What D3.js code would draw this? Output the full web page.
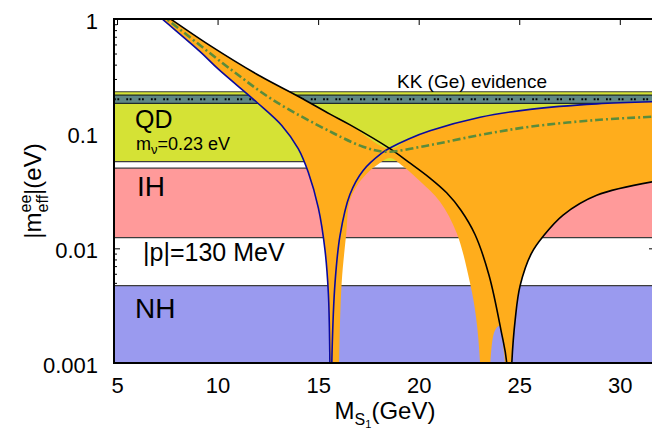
<!DOCTYPE html>
<html><head><meta charset="utf-8">
<script src="https://cdn.jsdelivr.net/npm/d3@7"></script>
<style>
body{margin:0;background:#fff;}
svg text{font-family:"Liberation Sans",Arial,Helvetica,sans-serif;fill:#000;}
</style></head><body>
<svg id="chart" width="652" height="430"></svg>
<script>
// ---------------- data ----------------
const xTicks = [5, 10, 15, 20, 25, 30];
const yTicks = [1, 0.1, 0.01, 0.001];
const yTickLabels = ["1", "0.1", "0.01", "0.001"];

// horizontal bands (eV)
const bandNames = ["QD", "KK", "IH", "NH"];
const bandLow  = [0.057, 0.184, 0.0124, 0.001];
const bandHigh = [0.232, 0.217, 0.050, 0.00472];
const kkLine = 0.2;

// curves [M_S1 (GeV), |m_ee| (eV)]
const blueCurve = [
  [6.94,1.12],[7.22,1.01],[9.13,0.519],[10.04,0.365],[11.95,0.188],[13.19,0.118],
  [14.01,0.074],[14.51,0.046],[15.01,0.0225],[15.34,0.0097],
  [15.51,0.0040],[15.58,0.0012],[15.63,0.0001],
  [15.69,0.0012],[15.84,0.0050],[16.09,0.0130],[16.58,0.0295],[17.23,0.0475],
  [18.16,0.0675],[18.57,0.0750],[19.5,0.090],[20.56,0.1060],[23.05,0.1390],[25.54,0.163],
  [28.85,0.182],[31.8,0.19]
];
const blackCurve = [
  [7.27,1.12],[7.635,1.01],[9.67,0.58],[12.11,0.318],[14.0,0.212],[15.59,0.148],[16.59,0.1193],
  [18.57,0.0740],[19.5,0.0565],[20.56,0.041],[21.39,0.0305],[22.1,0.0215],[22.8,0.0132],[23.5,0.0058],
  [24.1,0.0019],[24.38,0.001],[24.5,0.0001],
  [24.63,0.001],[24.8,0.0024],[25.04,0.0047],[25.6,0.0090],[26.2,0.0128],[27.18,0.0195],
  [28.85,0.0290],[31.8,0.0385]
];
const greenCurve = [
  [7.09,1.12],[7.44,1.01],[10.70,0.359],[12.76,0.1966],[15.74,0.1014],[17.23,0.077],
  [18.33,0.0696],[20.56,0.0796],[23.05,0.0974],[25.54,0.115],[28.85,0.1316],[31.8,0.141]
];
// lower edge of the orange region between the two dips
const archLower = [
  [16.00,0.0003],[16.04,0.001],[16.17,0.00499],[16.40,0.0136],[16.55,0.0250],
  [16.90,0.0345],[17.40,0.0445],[17.95,0.0535],[18.57,0.0613],[19.22,0.0520],
  [20.07,0.0385],[21.06,0.0255],[21.89,0.0136],[22.55,0.0050],[22.85,0.00252],
  [23.05,0.001],[23.10,0.0003],[23.50,0.0003],[23.56,0.0010],[23.78,0.0019],
  [24.0,0.0021],[24.25,0.0012]
];
const crossing = 18.57;
const blueDip = 15.63, blackDip = 24.5;

// ---------------- drawing ----------------
const W = 652, H = 430;
const L = 114, T = 19, R = 655, B = 363;
const x = d3.scaleLinear().domain([4.85, 31.75]).range([L, R]);
const y = d3.scaleLog().domain([0.001, 1]).range([B, T]);
const FONT = "Liberation Sans, Arial, Helvetica, sans-serif";

const svg = d3.select("#chart");
svg.append("rect").attr("width", W).attr("height", H).attr("fill", "#fff");
svg.append("defs").append("clipPath").attr("id", "plotClip")
  .append("rect").attr("x", L).attr("y", T).attr("width", R - L).attr("height", B - T);

const minorVals = [];
for (let e = -3; e < 0; e++) for (let m = 2; m <= 9; m++) minorVals.push(m * Math.pow(10, e));

function styleAxis(g) {
  g.select(".domain").remove();
  g.attr("font-family", FONT).attr("font-size", 22);
  g.selectAll("line").attr("stroke", "#000").attr("stroke-width", 1);
}
svg.append("g").attr("transform", `translate(${L},0)`)
  .call(d3.axisLeft(y).tickValues(yTicks).tickFormat((d, i) => yTickLabels[i])
    .tickSizeInner(-6).tickSizeOuter(0).tickPadding(16))
  .call(styleAxis)
  .selectAll("text").attr("dy", "0.42em");
svg.append("g").attr("transform", `translate(${L},0)`)
  .call(d3.axisLeft(y).tickValues(minorVals).tickFormat("").tickSizeInner(-3).tickSizeOuter(0))
  .call(styleAxis);
svg.append("g").attr("transform", `translate(${R},0)`)
  .call(d3.axisRight(y).tickValues(yTicks).tickFormat("").tickSizeInner(-6).tickSizeOuter(0))
  .call(styleAxis);
svg.append("g").attr("transform", `translate(0,${T})`)
  .call(d3.axisTop(x).tickValues(xTicks).tickFormat("").tickSizeInner(-6).tickSizeOuter(0))
  .call(styleAxis);
svg.append("g").attr("transform", `translate(0,${B})`)
  .call(d3.axisBottom(x).tickValues(xTicks).tickFormat(d3.format("d"))
    .tickSizeInner(-6).tickSizeOuter(0).tickPadding(14))
  .call(styleAxis);

// bands
const bandFill = { QD: "#d5e235", KK: "#5f8784", IH: "#ff9a9a", NH: "#9a9aef" };
const gBands = svg.append("g").attr("clip-path", "url(#plotClip)");
bandNames.forEach((n, i) => {
  gBands.append("rect").attr("x", L).attr("width", R - L)
    .attr("y", y(bandHigh[i])).attr("height", y(bandLow[i]) - y(bandHigh[i]))
    .attr("fill", bandFill[n]);
  [bandHigh[i], bandLow[i]].forEach(v => {
    if (v > 0.001) gBands.append("line").attr("x1", L).attr("x2", R)
      .attr("y1", y(v)).attr("y2", y(v))
      .attr("stroke", n === "KK" ? "#1e2a2a" : "#3c3c3c").attr("stroke-width", 1.2);
  });
});
gBands.append("line").attr("x1", L).attr("x2", R).attr("y1", y(kkLine)).attr("y2", y(kkLine))
  .attr("stroke", "#000").attr("stroke-width", 2).attr("stroke-dasharray", "1.8,1.6,1.8,7.1");

// orange region and curves
const gCurves = svg.append("g").attr("clip-path", "url(#plotClip)");
const line = d3.line().x(d => x(d[0])).y(d => y(d[1])).curve(d3.curveCatmullRom.alpha(0.5));
const upper = blackCurve.filter(d => d[0] <= crossing).concat(blueCurve.filter(d => d[0] > crossing));
const lower = blueCurve.filter(d => d[0] <= blueDip)
  .concat(archLower)
  .concat(blackCurve.filter(d => d[0] >= blackDip));
const lowerRev = lower.slice().reverse();
const areaPath = line(upper) + line(lowerRev).replace(/^M/, "L") + "Z";
gCurves.append("path").attr("d", areaPath).attr("fill", "#ffad1c").attr("stroke", "none");

gCurves.append("path").attr("d", line(blueCurve)).attr("fill", "none")
  .attr("stroke", "#0a0aa0").attr("stroke-width", 1.6);
gCurves.append("path").attr("d", line(blackCurve)).attr("fill", "none")
  .attr("stroke", "#000").attr("stroke-width", 1.6);
gCurves.append("path").attr("d", line(greenCurve)).attr("fill", "none")
  .attr("stroke", "#5a8c3c").attr("stroke-width", 2.6).attr("stroke-dasharray", "8,3,2,3");

// frame
svg.append("path").attr("d", `M${R},${T}H${L}V${B}H${R}`).attr("fill", "none")
  .attr("stroke", "#000").attr("stroke-width", 2);

// labels
function label(txt, px, py, size) {
  return svg.append("text").attr("x", px).attr("y", py).attr("font-size", size)
    .attr("font-family", FONT).text(txt);
}
label("KK (Ge) evidence", 397, 88, 19);
label("QD", 135, 127.5, 25);
const mnu = svg.append("text").attr("x", 136).attr("y", 150).attr("font-size", 18).attr("font-family", FONT);
mnu.append("tspan").text("m");
mnu.append("tspan").attr("font-size", 13).attr("dy", 4).text("ν");
mnu.append("tspan").attr("dy", -4).text("=0.23 eV");
label("IH", 137, 196, 28);
label("|p|=130 MeV", 143, 261, 25);
label("NH", 135, 318, 28);

// x title
const xt = svg.append("text").attr("x", 385).attr("y", 419).attr("text-anchor", "middle")
  .attr("font-size", 24).attr("font-family", FONT);
xt.append("tspan").text("M");
xt.append("tspan").attr("font-size", 16).attr("dy", 6).text("S");
xt.append("tspan").attr("font-size", 11).attr("dy", 3).text("1");
xt.append("tspan").attr("dy", -9).text("(GeV)");

// y title
const yt = svg.append("text").attr("transform", "translate(41,191) rotate(-90)")
  .attr("text-anchor", "middle").attr("font-size", 24).attr("font-family", FONT);
yt.append("tspan").text("|m");
yt.append("tspan").attr("font-size", 16).attr("dy", -10).text("ee");
yt.append("tspan").attr("font-size", 16).attr("dx", -17.8).attr("dy", 17).text("eff");
yt.append("tspan").attr("dy", -7).text("|(eV)");
</script>
</body></html>
